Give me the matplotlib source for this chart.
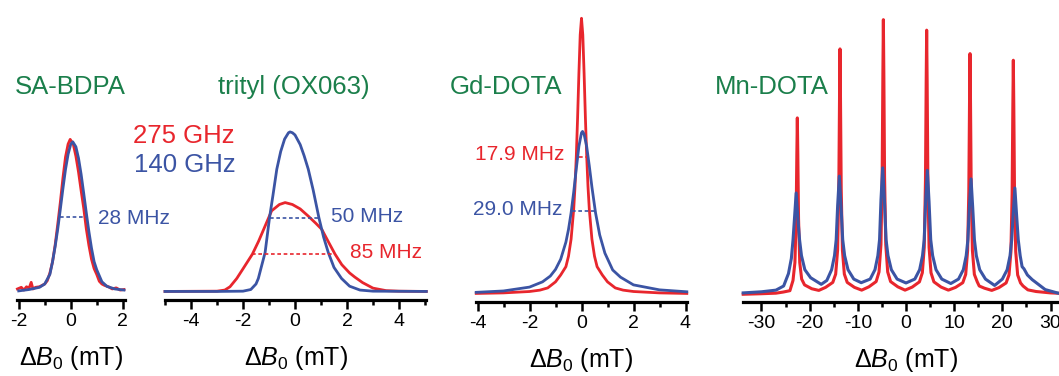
import matplotlib
matplotlib.use('Agg')
import matplotlib.pyplot as plt
from matplotlib.ticker import MultipleLocator

plt.rcParams['font.family'] = ['Liberation Sans', 'DejaVu Sans']
plt.rcParams['mathtext.fontset'] = 'custom'
plt.rcParams['mathtext.rm'] = 'Liberation Sans'
plt.rcParams['mathtext.it'] = 'Liberation Sans:italic'
plt.rcParams['axes.unicode_minus'] = False

RED = '#e8262d'
BLUE = '#3b54a4'
GREEN = '#1b7f4b'

# SA-BDPA (field offset in mT, normalised intensity)
bdpa_x_red = [-2.05, -1.9, -1.8, -1.7, -1.6, -1.52, -1.45, -1.35, -1.2, -1.0,
              -0.9, -0.8, -0.7, -0.6, -0.5, -0.4, -0.3, -0.2, -0.1, -0.02,
              0.1, 0.2, 0.3, 0.4, 0.5, 0.6, 0.7, 0.8, 0.9, 1.0,
              1.1, 1.2, 1.3, 1.45, 1.6, 1.75, 1.9, 2.05]
bdpa_y_red = [0.012, 0.018, 0.008, 0.02, 0.015, 0.036, 0.012, 0.018, 0.02, 0.03,
              0.042, 0.07, 0.11, 0.17, 0.245, 0.325, 0.413, 0.49, 0.537, 0.554,
              0.536, 0.493, 0.436, 0.369, 0.305, 0.23, 0.17, 0.12, 0.086, 0.065,
              0.04, 0.03, 0.025, 0.02, 0.012, 0.016, 0.008, 0.01]
bdpa_x_blue = [-2.0, -1.6, -1.2, -1.0, -0.8, -0.7, -0.6, -0.5, -0.4, -0.3,
               -0.2, -0.1, 0.0, 0.08, 0.2, 0.3, 0.4, 0.5, 0.6, 0.7,
               0.8, 0.9, 1.0, 1.2, 1.4, 1.7, 2.05]
bdpa_y_blue = [0.005, 0.01, 0.018, 0.03, 0.065, 0.11, 0.165, 0.228, 0.30, 0.375,
               0.445, 0.50, 0.536, 0.545, 0.527, 0.486, 0.428, 0.359, 0.288, 0.22,
               0.16, 0.111, 0.082, 0.038, 0.021, 0.012, 0.008]

# trityl (OX063)
trityl_x_red = [-5.0, -3.0, -2.7, -2.5, -2.24, -2.0, -1.64, -1.4, -1.15, -0.9,
                -0.6, -0.38, -0.1, 0.2, 0.51, 0.8, 1.03, 1.3, 1.54, 1.8,
                2.1, 2.3, 2.6, 3.0, 3.5, 4.0, 5.05]
trityl_y_red = [0.003, 0.004, 0.008, 0.02, 0.05, 0.085, 0.138, 0.185, 0.24, 0.295,
                0.318, 0.325, 0.318, 0.302, 0.276, 0.25, 0.228, 0.18, 0.138, 0.10,
                0.07, 0.055, 0.035, 0.015, 0.006, 0.004, 0.003]
trityl_x_blue = [-5.0, -3.0, -2.0, -1.7, -1.5, -1.41, -1.3, -1.15, -0.98, -0.85,
                 -0.7, -0.55, -0.4, -0.25, -0.19, -0.1, 0.0, 0.2, 0.35, 0.51,
                 0.7, 0.92, 1.1, 1.28, 1.5, 1.79, 2.1, 2.5, 3.0, 5.05]
trityl_y_blue = [0.003, 0.003, 0.004, 0.01, 0.03, 0.05, 0.09, 0.144, 0.27, 0.35,
                 0.446, 0.51, 0.555, 0.578, 0.581, 0.578, 0.57, 0.535, 0.495, 0.446,
                 0.37, 0.27, 0.2, 0.144, 0.09, 0.05, 0.022, 0.008, 0.004, 0.003]

# Gd-DOTA
gd_x_red = [-4.05, -3.0, -2.0, -1.6, -1.3, -1.0, -0.8, -0.7, -0.6, -0.5,
            -0.4, -0.3, -0.25, -0.2, -0.15, -0.1, -0.05, 0.0, 0.05, 0.1,
            0.15, 0.2, 0.25, 0.3, 0.4, 0.5, 0.6, 0.7, 0.8, 1.0,
            1.3, 1.6, 2.0, 3.0, 4.05]
gd_y_red = [0.003, 0.005, 0.01, 0.015, 0.023, 0.045, 0.07, 0.085, 0.1, 0.138,
            0.2, 0.308, 0.39, 0.5, 0.64, 0.80, 0.94, 1.0, 0.94, 0.80,
            0.64, 0.5, 0.39, 0.308, 0.2, 0.138, 0.1, 0.085, 0.07, 0.045,
            0.023, 0.015, 0.01, 0.005, 0.003]
gd_x_blue = [-4.05, -3.0, -2.0, -1.5, -1.2, -1.0, -0.8, -0.6, -0.5, -0.4,
             -0.3, -0.2, -0.1, 0.0, 0.04, 0.1, 0.2, 0.3, 0.4, 0.54,
             0.7, 0.9, 1.2, 1.5, 2.0, 3.0, 4.05]
gd_y_blue = [0.007, 0.012, 0.026, 0.045, 0.066, 0.09, 0.127, 0.189, 0.235, 0.295,
             0.37, 0.455, 0.536, 0.585, 0.59, 0.58, 0.535, 0.465, 0.389, 0.295,
             0.215, 0.149, 0.088, 0.062, 0.034, 0.016, 0.009]

# Mn-DOTA
mn_x_red = [-33.8, -30, -27, -25.5, -24.1, -23.46, -23.06, -22.81, -22.66, -22.56,
            -22.46, -22.31, -22.06, -21.66, -21.06, -19.56, -18.1,
            -16.7, -15.2, -14.6, -14.2, -13.95, -13.8, -13.7, -13.6, -13.45,
            -13.2, -12.8, -12.2, -10.7, -9.2,
            -7.7, -6.2, -5.6, -5.2, -4.95, -4.8, -4.7, -4.6, -4.45,
            -4.2, -3.8, -3.2, -1.7, -0.2,
            1.29, 2.79, 3.39, 3.79, 4.04, 4.19, 4.29, 4.39, 4.54,
            4.79, 5.19, 5.79, 7.29, 8.8,
            10.29, 11.79, 12.39, 12.79, 13.04, 13.19, 13.29, 13.39, 13.54,
            13.79, 14.19, 14.79, 15.2, 16.29, 17.8,
            19.28, 20.78, 21.38, 21.78, 22.03, 22.18, 22.28, 22.38, 22.53,
            22.78, 23.18, 23.78, 24.3, 25.3, 27, 30, 33.8]
mn_y_red = [0.0, 0.002, 0.004, 0.008, 0.013, 0.05, 0.115, 0.275, 0.51, 0.639,
            0.51, 0.275, 0.115, 0.055, 0.034, 0.02, 0.014,
            0.025, 0.043, 0.073, 0.16, 0.38, 0.71, 0.889, 0.71, 0.38,
            0.16, 0.073, 0.043, 0.025, 0.015,
            0.027, 0.046, 0.081, 0.18, 0.425, 0.8, 0.995, 0.8, 0.425,
            0.18, 0.081, 0.046, 0.027, 0.015,
            0.026, 0.045, 0.078, 0.17, 0.41, 0.77, 0.957, 0.77, 0.41,
            0.17, 0.078, 0.045, 0.026, 0.015,
            0.025, 0.042, 0.072, 0.158, 0.373, 0.70, 0.872, 0.70, 0.373,
            0.158, 0.072, 0.045, 0.03, 0.022, 0.014,
            0.024, 0.041, 0.07, 0.154, 0.363, 0.68, 0.848, 0.68, 0.363,
            0.154, 0.07, 0.041, 0.03, 0.016, 0.01, 0.005, 0.002]
mn_x_blue = [-33.8, -30, -27, -25.4, -24.4, -23.8, -23.45, -23.15, -22.8, -22.45,
             -22.1, -21.7, -21.0, -19.8, -17.6,
             -16.44, -15.44, -14.84, -14.49, -14.19, -13.84, -13.49, -13.14, -12.74,
             -12.04, -10.84, -9.3,
             -7.44, -6.44, -5.84, -5.49, -5.19, -4.84, -4.49, -4.14, -3.74,
             -3.04, -1.84, 0.0,
             1.83, 2.83, 3.43, 3.78, 4.08, 4.43, 4.78, 5.13, 5.53,
             6.23, 7.43, 9.3,
             10.9, 11.9, 12.5, 12.85, 13.15, 13.5, 13.85, 14.2, 14.6,
             15.3, 16.5, 18.4,
             20.0, 21.0, 21.6, 21.95, 22.25, 22.6, 22.95, 23.3, 23.7,
             24.1, 24.5, 25.2, 26.2, 28.9, 31.6, 33.8]
mn_y_blue = [0.005, 0.009, 0.015, 0.03, 0.075, 0.13, 0.198, 0.275, 0.367, 0.275,
             0.198, 0.14, 0.089, 0.06, 0.036,
             0.05, 0.089, 0.14, 0.198, 0.321, 0.428, 0.321, 0.198, 0.14,
             0.089, 0.055, 0.042,
             0.055, 0.089, 0.14, 0.198, 0.344, 0.458, 0.344, 0.198, 0.14,
             0.089, 0.055, 0.041,
             0.055, 0.089, 0.14, 0.198, 0.337, 0.449, 0.337, 0.198, 0.14,
             0.089, 0.055, 0.039,
             0.055, 0.089, 0.14, 0.198, 0.314, 0.418, 0.314, 0.198, 0.14,
             0.089, 0.055, 0.032,
             0.055, 0.089, 0.14, 0.198, 0.289, 0.385, 0.289, 0.198, 0.14,
             0.1, 0.092, 0.07, 0.053, 0.017, 0.004, 0.002]

titles = ['SA-BDPA', 'trityl (OX063)', 'Gd-DOTA', 'Mn-DOTA']
xlabel = r'$\Delta\mathit{B}_0$ (mT)'

W, H = 1059, 376
fig = plt.figure(figsize=(W / 100, H / 100), dpi=100)

YLIM = (-0.028, 1.065)
PX_PER_UNIT = 276.0


def make_axes(zero_px, px_per_mT, xlim, axis_y):
    x0 = zero_px + xlim[0] * px_per_mT
    x1 = zero_px + xlim[1] * px_per_mT
    h = (YLIM[1] - YLIM[0]) * PX_PER_UNIT
    ax = fig.add_axes([x0 / W, (H - axis_y) / H, (x1 - x0) / W, h / H])
    ax.set_xlim(*xlim)
    ax.set_ylim(*YLIM)
    for s in ['left', 'right', 'top']:
        ax.spines[s].set_visible(False)
    ax.spines['bottom'].set_linewidth(2.3)
    ax.set_yticks([])
    ax.patch.set_alpha(0)
    ax.tick_params(which='major', direction='out', length=6.5, width=1.8,
                   labelsize=14, pad=3)
    ax.tick_params(which='minor', direction='out', length=3.5, width=1.8)
    ax.set_xlabel(xlabel, fontsize=18, labelpad=10)
    return ax


def draw(ax, xr, yr, xb, yb, lw=2.0):
    ax.plot(xr, yr, color=RED, lw=lw, clip_on=False, solid_joinstyle='round')
    ax.plot(xb, yb, color=BLUE, lw=lw, clip_on=False, solid_joinstyle='round')


def dash(ax, x1, x2, y, color):
    ax.plot([x1, x2], [y, y], color=color, lw=1.2, ls=(0, (2.2, 1.6)))


def ftext(px, py, s, color, size, ha='left'):
    fig.text(px / W, 1 - py / H, s, color=color, fontsize=size, ha=ha, va='center')


# panel 1
ax1 = make_axes(70.7, 26.0, (-2.07, 2.1), 300)
draw(ax1, bdpa_x_red, bdpa_y_red, bdpa_x_blue, bdpa_y_blue)
ax1.xaxis.set_major_locator(MultipleLocator(2))
ax1.xaxis.set_minor_locator(MultipleLocator(1))
dash(ax1, -0.41, 0.62, 0.273, BLUE)

# panel 2
ax2 = make_axes(295.0, 26.0, (-5.0, 5.05), 300)
draw(ax2, trityl_x_red, trityl_y_red, trityl_x_blue, trityl_y_blue)
ax2.xaxis.set_major_locator(MultipleLocator(2))
ax2.xaxis.set_minor_locator(MultipleLocator(1))
dash(ax2, -0.96, 0.92, 0.27, BLUE)
dash(ax2, -1.64, 1.54, 0.138, RED)

# panel 3
ax3 = make_axes(581.5, 26.0, (-4.05, 4.05), 302)
draw(ax3, gd_x_red, gd_y_red, gd_x_blue, gd_y_blue)
ax3.xaxis.set_major_locator(MultipleLocator(2))
ax3.xaxis.set_minor_locator(MultipleLocator(1))
dash(ax3, -0.1, 0.2, 0.497, RED)
dash(ax3, -0.38, 0.55, 0.30, BLUE)

# panel 4 (runs past the right edge of the figure, as in the original)
ax4 = make_axes(906.0, 4.817, (-33.8, 33.8), 302)
draw(ax4, mn_x_red, mn_y_red, mn_x_blue, mn_y_blue, lw=2.2)
ax4.xaxis.set_major_locator(MultipleLocator(10))
ax4.xaxis.set_minor_locator(MultipleLocator(5))

# titles
ftext(15, 87, titles[0], GREEN, 18.5)
ftext(218, 87, titles[1], GREEN, 18.5)
ftext(450, 87, titles[2], GREEN, 18.5)
ftext(715, 87, titles[3], GREEN, 18.5)

# frequency key and line widths
ftext(133, 136, '275 GHz', RED, 18.5)
ftext(134, 165, '140 GHz', BLUE, 18.5)
ftext(98, 218, '28 MHz', BLUE, 15)
ftext(331, 217, '50 MHz', BLUE, 15)
ftext(350, 253, '85 MHz', RED, 15)
ftext(564, 155, '17.9 MHz', RED, 15, ha='right')
ftext(562, 210, '29.0 MHz', BLUE, 15, ha='right')

fig.savefig('out.png', dpi=100)
